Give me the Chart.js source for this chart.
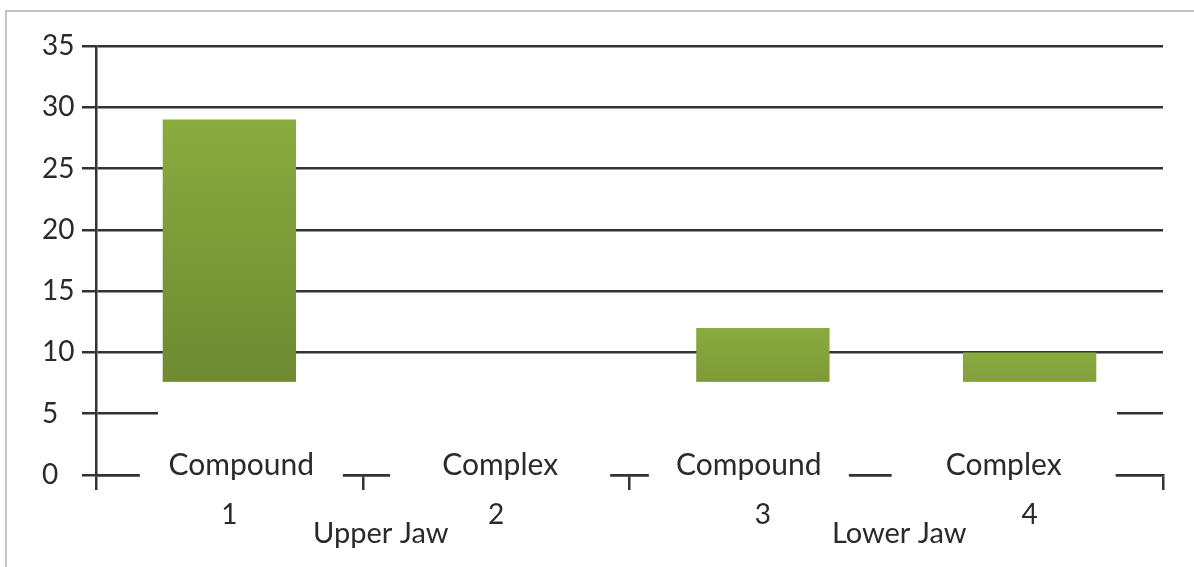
<!DOCTYPE html>
<html>
<head>
<meta charset="utf-8">
<script src="https://cdn.jsdelivr.net/npm/chart.js@4/dist/chart.umd.min.js"></script>
<style>
  html, body { margin: 0; padding: 0; background: #fff; }
  #wrap { width: 1194px; height: 567px; position: relative; }
</style>
</head>
<body>
<div id="wrap"><canvas id="c" width="1194" height="567"></canvas></div>
<script>
// Category tick labels along the x axis
const categories = ['1', '2', '3', '4'];
// Number of cases per category
const values = [29, 0, 12, 10];
// Anomaly type written above each category tick
const typeLabels = ['Compound', 'Complex', 'Compound', 'Complex'];
// Jaw group captions
const jawLabels = ['Upper Jaw', 'Lower Jaw'];
// Y axis range and step
const yMin = 0, yMax = 35, yStep = 5;
// Level below which the plot body is blanked out by the caption panel
const panelTop = 7.6;

const FONT = 'Lato, "Open Sans", sans-serif';
const LINE = '#333333';
const TEXT = '#2a2a2a';

// Per-bar vertical gradient from the bar top down to the zero line
function barFill(context) {
  const chart = context.chart;
  if (!chart.chartArea) return '#86a83c';
  const y = chart.scales.y;
  const top = y.getPixelForValue(context.raw);
  const base = y.getPixelForValue(0);
  if (!isFinite(top) || top === base) return '#86a83c';
  const g = chart.ctx.createLinearGradient(0, top, 0, base);
  g.addColorStop(0, '#8aab3f');
  g.addColorStop(1, '#657e2c');
  return g;
}

// Thin grey frame along the top and left edges of the figure
const framePlugin = {
  id: 'frame',
  beforeDraw(chart) {
    const ctx = chart.ctx;
    ctx.save();
    ctx.strokeStyle = '#c4c4c4';
    ctx.lineWidth = 2;
    ctx.beginPath();
    ctx.moveTo(6, chart.height);
    ctx.lineTo(6, 11);
    ctx.lineTo(chart.width, 11);
    ctx.stroke();
    ctx.restore();
  }
};

// White caption panel with the type labels and jaw captions
const captionPlugin = {
  id: 'captions',
  afterDraw(chart) {
    const { ctx, chartArea: a, scales: { x, y } } = chart;
    const y0 = y.getPixelForValue(0);
    const yTop = y.getPixelForValue(panelTop);
    ctx.save();
    ctx.fillStyle = '#fff';
    ctx.fillRect(a.left + 62, yTop, a.width - 62 - 46, y0 - 5 - yTop);

    const shifts = [12, 4, -14, -26];
    const widths = [203, 220, 200, 224];
    ctx.font = '30px ' + FONT;
    ctx.textAlign = 'center';
    ctx.textBaseline = 'middle';
    typeLabels.forEach((t, i) => {
      const cx = x.getPixelForValue(i) + shifts[i];
      ctx.fillStyle = '#fff';
      ctx.fillRect(cx - widths[i] / 2, y0 - 25, widths[i], 33);
      ctx.fillStyle = TEXT;
      ctx.fillText(t, cx, y0 - 10);
    });

    // Jaw captions sit near the boundaries between categories 1|2 and 3|4
    const half = (x.getPixelForValue(1) - x.getPixelForValue(0)) / 2;
    const jawX = [x.getPixelForValue(0) + half + 18, x.getPixelForValue(2) + half + 3];
    ctx.font = '29px ' + FONT;
    jawLabels.forEach((t, i) => {
      ctx.fillStyle = TEXT;
      ctx.fillText(t, jawX[i], y0 + 59);
    });
    ctx.restore();
  }
};

new Chart(document.getElementById('c'), {
  type: 'bar',
  data: {
    labels: categories,
    datasets: [{
      data: values,
      backgroundColor: barFill,
      borderWidth: 0,
      categoryPercentage: 1,
      barPercentage: 0.5
    }]
  },
  options: {
    responsive: false,
    animation: false,
    events: [],
    layout: { padding: { left: 42, top: 46, right: 31, bottom: 0 } },
    plugins: { legend: { display: false }, tooltip: { enabled: false } },
    scales: {
      x: {
        offset: true,
        grid: {
          offset: true,
          drawOnChartArea: false,
          drawTicks: true,
          tickLength: 15,
          lineWidth: 2.5,
          tickColor: (c) => (c.index === 3 ? 'rgba(0,0,0,0)' : LINE)
        },
        border: { display: true, color: LINE, width: 2.5 },
        ticks: {
          color: TEXT,
          font: { family: FONT, size: 28 },
          padding: 8,
          maxRotation: 0
        },
        afterFit(scale) { scale.height = 92; }
      },
      y: {
        min: yMin,
        max: yMax,
        ticks: {
          stepSize: yStep,
          color: TEXT,
          font: { family: FONT, size: 28 },
          crossAlign: 'far',
          padding: 6
        },
        grid: {
          color: LINE,
          lineWidth: 2.5,
          drawTicks: true,
          tickLength: 14,
          tickColor: LINE
        },
        border: { display: true, color: LINE, width: 2.5 },
        afterFit(scale) { scale.width = 54; }
      }
    }
  },
  plugins: [framePlugin, captionPlugin]
});
</script>
</body>
</html>
